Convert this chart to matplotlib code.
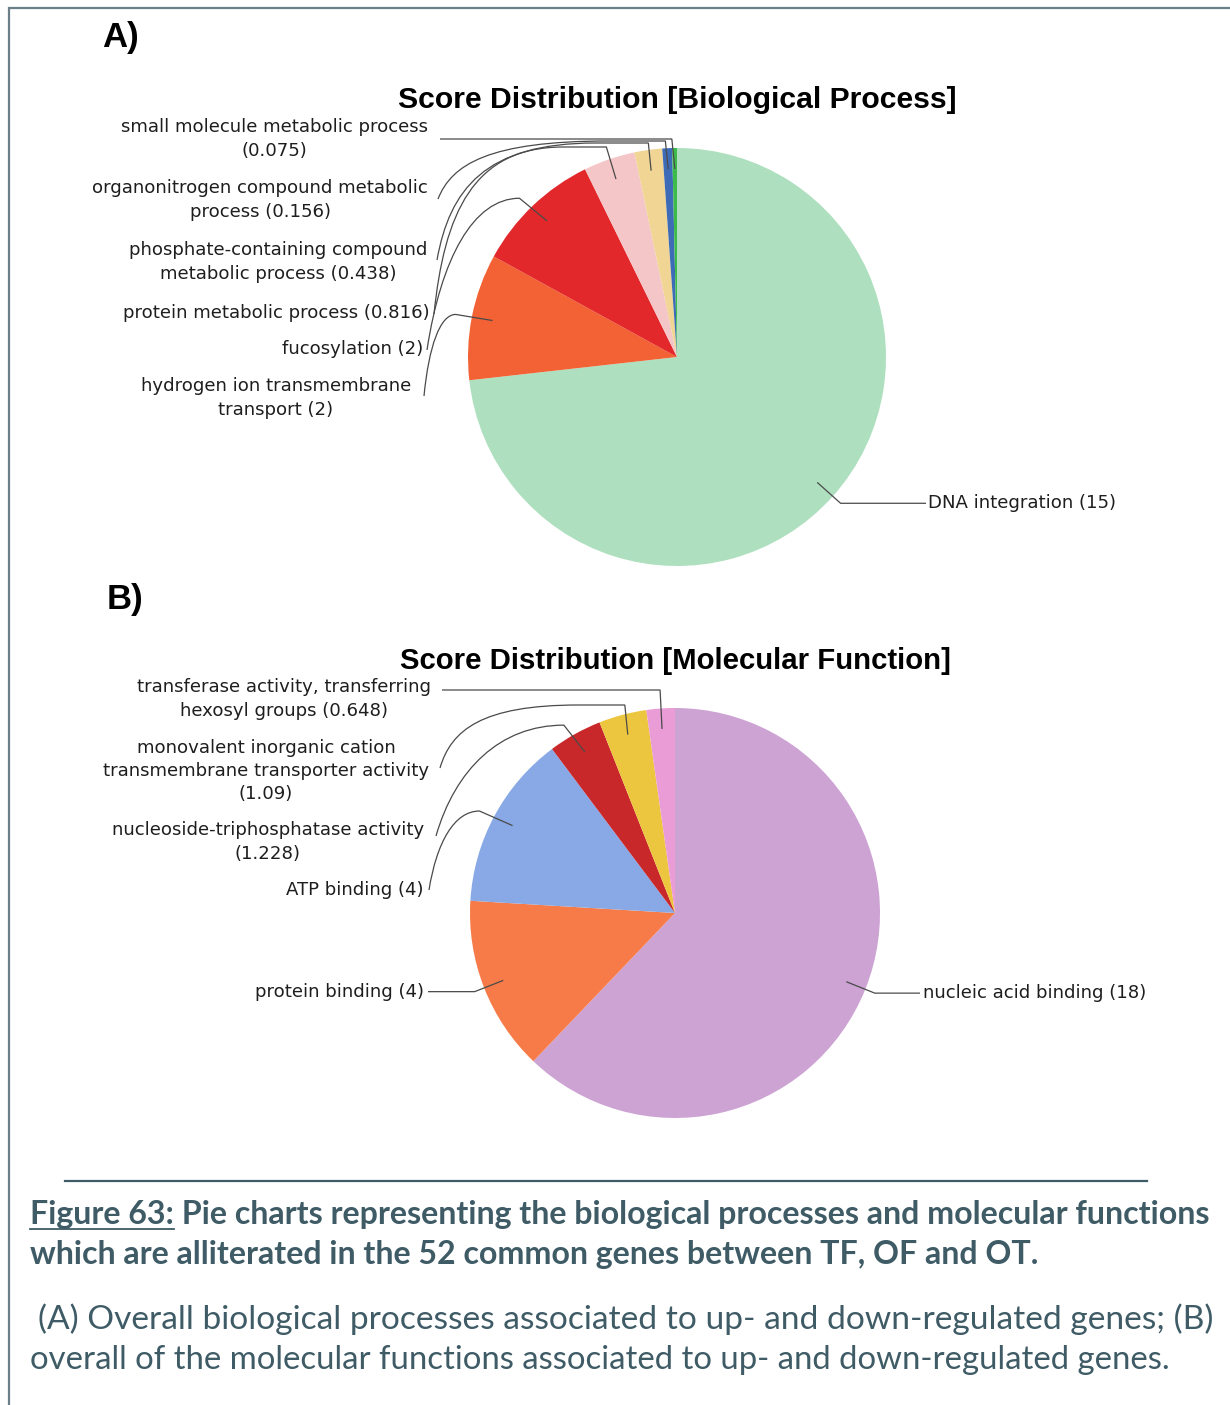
import numpy as np
import matplotlib.pyplot as plt
from matplotlib.path import Path
from matplotlib.patches import PathPatch

# data
bp_names = ["DNA integration ", "hydrogen ion transmembrane\ntransport ", "fucosylation ",
            "protein metabolic process ", "phosphate-containing compound\nmetabolic process ",
            "organonitrogen compound metabolic\nprocess ", "small molecule metabolic process\n"]
bp_values = [15, 2, 2, 0.816, 0.438, 0.156, 0.075]
bp_colors = ["#aee0bf", "#f26234", "#e2282b", "#f4c6c8", "#f0d595", "#3d6bb5", "#3dbb4a"]

mf_names = ["nucleic acid binding ", "protein binding ", "ATP binding ",
            "nucleoside-triphosphatase activity\n", "monovalent inorganic cation\ntransmembrane transporter activity\n",
            "transferase activity, transferring\nhexosyl groups "]
mf_values = [18, 4, 4, 1.228, 1.09, 0.648]
mf_colors = ["#cda3d4", "#f77b48", "#88a9e5", "#c9282b", "#edc63f", "#e99cd6"]

W, H = 1230, 1405
fig = plt.figure(figsize=(W / 100, H / 100), dpi=100)
ax = fig.add_axes([0, 0, 1, 1])
renderer = fig.canvas.get_renderer()

line_col = "#4a4a4a"
cap_col = "#3e5b66"


def fit_text(x, y, s, width, **kw):
    t = ax.text(x, y, s, **kw)
    bb = t.get_window_extent(renderer)
    t.set_fontsize(t.get_fontsize() * width / bb.width)
    return t


def draw_path(verts, codes):
    ax.add_patch(PathPatch(Path(verts, codes), fill=False, ec=line_col, lw=0.9))


def anchor(w, cx, cy, r):
    th = np.deg2rad((w.theta1 + w.theta2) / 2)
    return cx + r * np.cos(th), cy + r * np.sin(th)


def straight_elbow(w, cx, cy, R, end_x):
    ax_, ay_ = anchor(w, cx, cy, 0.9 * R)
    kx, ky = anchor(w, cx, cy, 1.05 * R)
    draw_path([(ax_, ay_), (kx, ky), (end_x, ky)], [Path.MOVETO, Path.LINETO, Path.LINETO])
    return ky


def bundle(w, cx, cy, R, sx, sy, yb, slant=0.1):
    ax_, ay_ = anchor(w, cx, cy, 0.9 * R)
    top_x = ax_ - slant * (ay_ - yb)
    if abs(sy - yb) < 2:
        draw_path([(sx, yb), (top_x, yb), (ax_, ay_)], [Path.MOVETO, Path.LINETO, Path.LINETO])
        return
    L = 0.75 * (top_x - sx)
    verts = [(sx, sy), (sx + 0.08 * L, sy - 0.6 * (sy - yb)), (sx + 0.3 * L, yb), (sx + L, yb),
             (top_x, yb), (ax_, ay_)]
    codes = [Path.MOVETO, Path.CURVE4, Path.CURVE4, Path.CURVE4, Path.LINETO, Path.LINETO]
    draw_path(verts, codes)


def knee(w, cx, cy, R, sx, sy):
    ax_, ay_ = anchor(w, cx, cy, 0.9 * R)
    kx, ky = anchor(w, cx, cy, 1.05 * R)
    kx -= 6
    dx, dy = kx - sx, sy - ky
    verts = [(sx, sy), (sx + 0.15 * dx, sy - 0.6 * dy), (kx - 0.5 * dx, ky), (kx, ky), (ax_, ay_)]
    codes = [Path.MOVETO, Path.CURVE4, Path.CURVE4, Path.CURVE4, Path.LINETO]
    draw_path(verts, codes)


# ---------- A) biological process ----------
cxA, cyA, RA = 677, 357, 209
wA, _ = ax.pie(bp_values, colors=bp_colors, startangle=-90, counterclock=True,
               center=(cxA, cyA), radius=RA, wedgeprops=dict(linewidth=0))
bp_labels = [f"{n}({v:g})" for n, v in zip(bp_names, bp_values)]

# ---------- B) molecular function ----------
cxB, cyB, RB = 675, 913, 205
wB, _ = ax.pie(mf_values, colors=mf_colors, startangle=-90, counterclock=True,
               center=(cxB, cyB), radius=RB, wedgeprops=dict(linewidth=0))
mf_labels = [f"{n}({v:g})" for n, v in zip(mf_names, mf_values)]

ax.set_xlim(0, W)
ax.set_ylim(H, 0)
ax.set_aspect("auto")
ax.axis("off")

# label font size from one reference label
probe = fit_text(120, 313, bp_labels[3], 306, fontfamily="DejaVu Sans", fontsize=12)
lab_fs = probe.get_fontsize()
probe.remove()
lab_kw = dict(fontfamily="DejaVu Sans", fontsize=lab_fs, color="#1e1e1e", va="center",
              ha="right", multialignment="center", linespacing=1.38)

# A labels (right edge, centre y)
posA = {6: (428, 139), 5: (428, 200), 4: (427, 262), 3: (430, 313), 2: (423, 349), 1: (411, 398)}
for i, (x, y) in posA.items():
    ax.text(x, y, bp_labels[i], **lab_kw)
yk = straight_elbow(wA[0], cxA, cyA, RA, 926)
ax.text(928, yk, bp_labels[0], **{**lab_kw, "ha": "left"})
bundle(wA[6], cxA, cyA, RA, 440, 139, 139)
bundle(wA[5], cxA, cyA, RA, 438, 199, 141)
bundle(wA[4], cxA, cyA, RA, 437, 260, 143)
bundle(wA[3], cxA, cyA, RA, 434, 314, 147, slant=0.3)
knee(wA[2], cxA, cyA, RA, 427, 350)
knee(wA[1], cxA, cyA, RA, 424, 396)

# B labels
posB = {5: (431, 699), 4: (429, 771), 3: (424, 842), 2: (424, 890)}
for i, (x, y) in posB.items():
    ax.text(x, y, mf_labels[i], **lab_kw)
yk = straight_elbow(wB[1], cxB, cyB, RB, 428)
ax.text(424, yk, mf_labels[1], **lab_kw)
yk = straight_elbow(wB[0], cxB, cyB, RB, 920)
ax.text(923, yk, mf_labels[0], **{**lab_kw, "ha": "left"})
bundle(wB[5], cxB, cyB, RB, 442, 690, 690, slant=0.05)
bundle(wB[4], cxB, cyB, RB, 440, 768, 705, slant=0.1)
knee(wB[3], cxB, cyB, RB, 436, 836)
knee(wB[2], cxB, cyB, RB, 429, 890)

# titles
fit_text(398, 100, "Score Distribution [Biological Process]", 559, fontfamily="Liberation Sans",
         fontweight="bold", fontsize=17, va="center", color="black")
fit_text(400, 661, "Score Distribution [Molecular Function]", 553, fontfamily="Liberation Sans",
         fontweight="bold", fontsize=17, va="center", color="black")
ax.text(102, 38, "A)", fontfamily="Liberation Sans", fontweight="bold", fontsize=25, va="center")
ax.text(107, 600, "B)", fontfamily="Liberation Sans", fontweight="bold", fontsize=25, va="center")

# frame lines
ax.plot([9, 9, W], [H, 8, 8], color="#6b7f88", lw=1.6, solid_joinstyle="miter")
ax.plot([65, 1147], [1181, 1181], color=cap_col, lw=1.6)

# caption
cap_kw = dict(fontfamily="Lato", fontweight="bold", color=cap_col, va="baseline", fontsize=18)
t1 = fit_text(30, 1224, "Figure 63: Pie charts representing the biological processes and molecular functions",
              1182, **cap_kw)
fs1 = t1.get_fontsize()
t1.remove()
ta = ax.text(30, 1224, "Figure 63:", **{**cap_kw, "fontsize": fs1})
bba = ta.get_window_extent(renderer)
ax.text(30 + bba.width, 1224, " Pie charts representing the biological processes and molecular functions",
        **{**cap_kw, "fontsize": fs1})
ax.plot([30, 30 + bba.width], [1229, 1229], color=cap_col, lw=1.3)
ax.text(30, 1264, "which are alliterated in the 52 common genes between TF, OF and OT.",
        **{**cap_kw, "fontsize": fs1})

reg_kw = dict(fontfamily="Lato", color=cap_col, va="baseline", fontsize=18)
fit_text(38, 1329, "(A) Overall biological processes associated to up- and down-regulated genes; (B)",
         1172, **reg_kw)
fit_text(30, 1369, "overall of the molecular functions associated to up- and down-regulated genes.",
         1138, **reg_kw)

fig.savefig("out.png", dpi=100)
